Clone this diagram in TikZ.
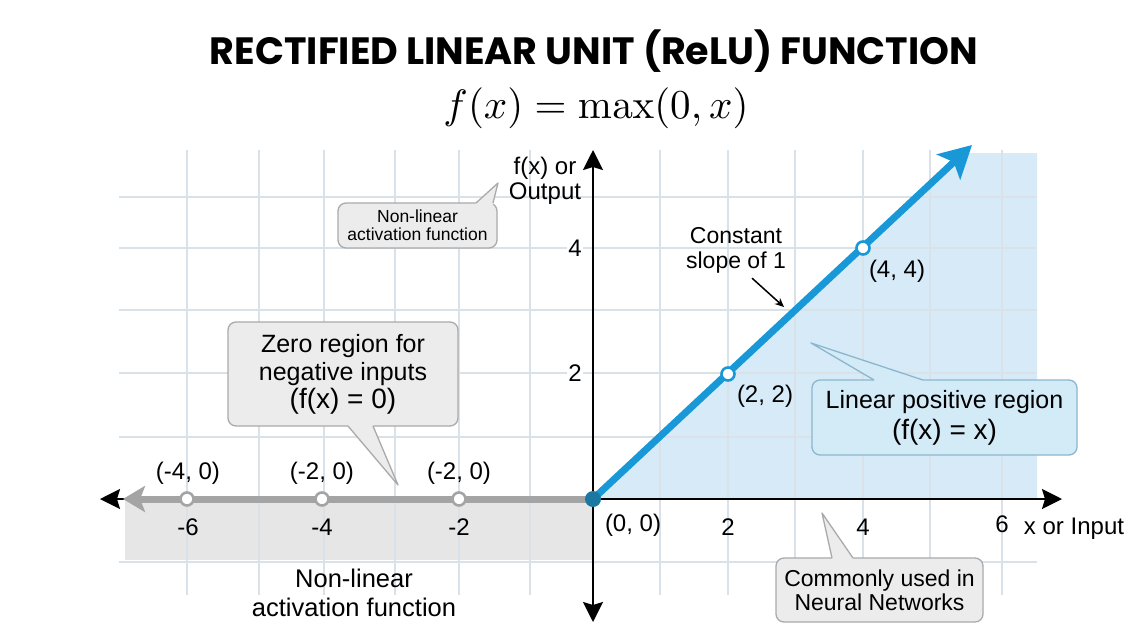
\documentclass[tikz,border=0pt]{standalone}
\usepackage[no-math]{fontspec}
\usepackage{graphicx}
\setmainfont{Liberation Sans}
\newfontfamily\titlefont{Poppins}
\usetikzlibrary{arrows.meta}

\definecolor{gridc}{RGB}{218,226,233}
\definecolor{posshade}{RGB}{214,234,248}
\definecolor{negshade}{RGB}{230,230,230}
\definecolor{relublue}{RGB}{24,152,214}
\definecolor{origindot}{RGB}{27,120,160}
\definecolor{negline}{RGB}{164,164,164}
\definecolor{callgray}{RGB}{236,236,236}
\definecolor{callgrayb}{RGB}{170,170,170}
\definecolor{callblue}{RGB}{211,234,247}
\definecolor{callblueb}{RGB}{140,182,206}

\newcommand\eqline{\fontsize{28}{30}\selectfont}

\begin{document}
\begin{tikzpicture}[x=1pt,y=-1pt,
  txt/.style={font=\fontsize{24}{28}\selectfont, inner sep=1pt},
  big/.style={font=\fontsize{25.5}{29}\selectfont, align=center, inner sep=0pt},
  graybox/.style={draw=callgrayb, fill=callgray, line width=1.3pt, rounded corners=8pt, inner sep=0pt, align=center},
  bluebox/.style={draw=callblueb, fill=callblue, line width=1.3pt, rounded corners=8pt, inner sep=0pt, align=center},
  axis/.style={line width=2.2pt, black, -{Stealth[length=20pt,width=20pt,inset=3pt]}},
  ptgray/.style={circle, fill=white, draw=negline, line width=2.6pt, minimum size=13pt, inner sep=0pt},
  ptblue/.style={circle, fill=white, draw=relublue, line width=2.6pt, minimum size=13pt, inner sep=0pt},
  gridline/.style={gridc, line width=1.2pt},
]
\useasboundingbox (0,0) rectangle (1132,638);
\fill[white] (0,0) rectangle (1132,638);

% title and formula
\node (title) at (594,51) {\resizebox{768pt}{!}{\titlefont\bfseries RECTIFIED LINEAR UNIT (ReLU) FUNCTION}};
\node[inner sep=0pt] (formula) at (596,108) {\resizebox{305pt}{!}{$f(x) = \max(0, x)$}};

% shaded regions
\fill[negshade] (125,499) rectangle (593,560);
\fill[posshade] (593,499) -- (962,153) -- (1037,153) -- (1037,499) -- cycle;

% grid
\foreach \gx in {187,259,324,395,459,530,660,728,795,863,930,1002}
  \draw[gridline] (\gx,150) -- (\gx,595);
\foreach \gy in {197,248,310,373,437,562}
  \draw[gridline] (119,\gy) -- (1037,\gy);

% axes
\coordinate (O) at (593,499);
\coordinate (xl) at (100,499);
\coordinate (xr) at (1062,499);
\coordinate (yt) at (593,150);
\coordinate (yb) at (593,622);
\draw[axis] (O) -- (xr);
\draw[axis] (O) -- (xl);
\draw[axis] (O) -- (yt);
\draw[axis] (O) -- (yb);

% ReLU: zero part and linear part
\coordinate (nl) at (123,499);
\coordinate (bt) at (972,145);
\draw[negline, line width=7pt, -{Stealth[length=22pt,width=26pt,inset=5pt]}] (O) -- (nl);
\draw[relublue, line width=7pt, -{Stealth[length=32pt,width=34pt,inset=7pt]}] (O) -- (bt);

% sample points
\node[ptgray] (n6) at (187,499) {};
\node[ptgray] (n4) at (322,499) {};
\node[ptgray] (n2) at (459,499) {};
\node[ptblue] (p2) at (728,374) {};
\node[ptblue] (p4) at (863,248) {};
\node[circle, fill=origindot, minimum size=16pt, inner sep=0pt] (o) at (O) {};

% axis labels
\node[txt, align=center, font=\fontsize{24}{25}\selectfont] (ylab) at (545,181) {f(x) or\\Output};
\node[txt, fill=white] (y4) at (575,248) {4};
\node[txt, fill=white] (y2) at (575,373) {2};
\node[txt] (xm6) at (188,527) {-6};
\node[txt] (xm4) at (322,527) {-4};
\node[txt] (xm2) at (459,527) {-2};
\node[txt] (x2) at (728,527) {2};
\node[txt] (x4) at (863,527) {4};
\node[txt] (x6) at (1002,524) {6};
\node[txt] (xlab) at (1074,529) {x or Input};

% point labels
\node[txt] (l00) at (633,525) {(0, 0)};
\node[txt] (lm6) at (188,473) {(-4, 0)};
\node[txt] (lm4) at (322,473) {(-2, 0)};
\node[txt] (lm2) at (459,473) {(-2, 0)};
\node[txt] (l22) at (765,396) {(2, 2)};
\node[txt] (l44) at (897,271) {(4, 4)};

% slope note
\node[txt, align=center, font=\fontsize{23}{25}\selectfont] (slope) at (736,250) {Constant\\slope of 1};
\coordinate (sa) at (784,307);
\draw[line width=1.5pt, -{Stealth[length=9pt,width=8pt]}] ([xshift=16pt,yshift=-4pt]slope.south) -- (sa);

% caption under the zero region
\node[big] (nonlin) at (354,593) {Non-linear\\activation function};

% callout: small note near the y axis
\node[graybox, minimum width=159pt, minimum height=45pt, font=\fontsize{17.5}{18}\selectfont] (cs) at (417.5,225.5) {Non-linear\\activation function};
\coordinate (cst) at (498,183);
\fill[callgray] (476,205) -- (476,203) -- (cst) -- (493,203) -- (493,205) -- cycle;
\draw[callgrayb, line width=1.3pt, line join=round] (476,203) -- (cst) -- (493,203);

% callout: zero region
\node[graybox, minimum width=230pt, minimum height=104pt, font=\fontsize{25}{28}\selectfont] (cz) at (343,374) {Zero region for\\negative inputs\\{\eqline (f(x) = 0)}};
\coordinate (czt) at (398,485);
\fill[callgray] (348,424) -- (348,426) -- (czt) -- (373,426) -- (373,424) -- cycle;
\draw[callgrayb, line width=1.3pt, line join=round] (348,426) -- (czt) -- (373,426);

% callout: linear positive region
\node[bluebox, minimum width=265pt, minimum height=75pt, font=\fontsize{25}{31}\selectfont] (cl) at (944.5,417.5) {Linear positive region\\{\eqline (f(x) = x)}};
\coordinate (clt) at (811,343);
\fill[callblue] (874,382) -- (874,380) -- (clt) -- (923,380) -- (923,382) -- cycle;
\draw[callblueb, line width=1.3pt, line join=round] (874,380) -- (clt) -- (923,380);

% callout: common use
\node[graybox, minimum width=207pt, minimum height=64pt, font=\fontsize{23}{24}\selectfont] (cc) at (879.5,590) {Commonly used in\\Neural Networks};
\coordinate (cct) at (822,513);
\fill[callgray] (832,560) -- (832,558) -- (cct) -- (853,558) -- (853,560) -- cycle;
\draw[callgrayb, line width=1.3pt, line join=round] (832,558) -- (cct) -- (853,558);
\end{tikzpicture}
\end{document}
